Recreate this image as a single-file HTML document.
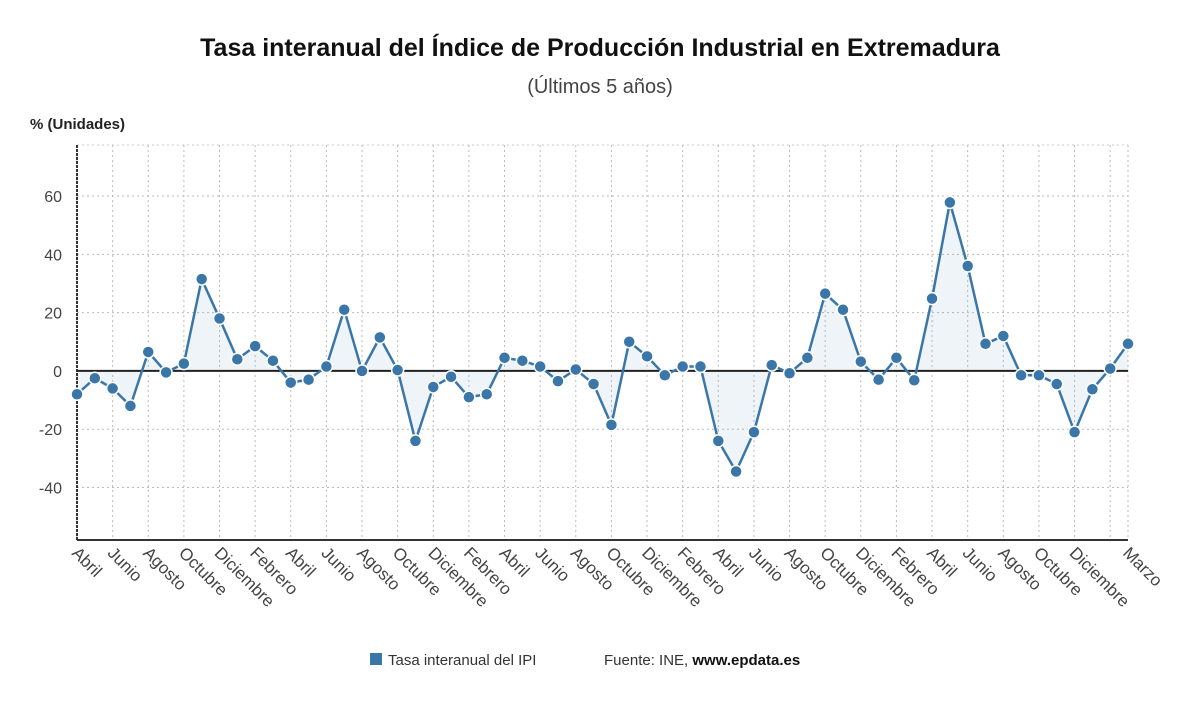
<!DOCTYPE html>
<html><head><meta charset="utf-8"><style>
body{margin:0;background:#fff;font-family:"Liberation Sans","DejaVu Sans",sans-serif;}
svg text{font-family:"Liberation Sans","DejaVu Sans",sans-serif;}
</style></head><body>
<svg id="chart" width="1200" height="705" xmlns="http://www.w3.org/2000/svg">
<text x="600" y="56" text-anchor="middle" font-size="25" font-weight="bold" fill="#111">Tasa interanual del Índice de Producción Industrial en Extremadura</text>
<text x="600" y="93" text-anchor="middle" font-size="20" fill="#444">(Últimos 5 años)</text>
<text x="30" y="129" font-size="15" font-weight="bold" fill="#222">% (Unidades)</text>
<g id="grid"></g>
<g id="area"></g>
<g id="axes"></g>
<g id="series"></g>
<g>
<rect x="370" y="653" width="12" height="12" fill="#3a76a8"/>
<text x="388" y="665" font-size="15" fill="#333">Tasa interanual del IPI</text>
<text x="604" y="665" font-size="15" fill="#333">Fuente: INE, <tspan font-weight="bold" fill="#111">www.epdata.es</tspan></text>
</g>
</svg>
<script>
const monthLabels=["Abril","Junio","Agosto","Octubre","Diciembre","Febrero"];
const values=[-8,-2.5,-6,-12,6.5,-0.5,2.5,31.5,18,4,8.5,3.5,-4,-3,1.5,21,0,11.5,0.3,-24,-5.5,-2,-9,-8,4.5,3.5,1.5,-3.5,0.5,-4.5,-18.5,10,5,-1.5,1.5,1.5,-24,-34.5,-21,2,-0.8,4.5,26.5,21,3.2,-3,4.5,-3.2,24.8,57.8,36,9.3,12,-1.5,-1.5,-4.5,-21,-6.3,0.8,9.3];
const yTicks=[60,40,20,0,-20,-40];
const NS="http://www.w3.org/2000/svg";
const L=77,R=1128,T=145,B=540,yMax=77.5,yMin=-58;
const n=values.length;
const x=i=>L+(R-L)*i/(n-1);
const y=v=>T+(yMax-v)/(yMax-yMin)*(B-T);
function mk(tag,attrs,parent){const e=document.createElementNS(NS,tag);for(const k in attrs)e.setAttribute(k,attrs[k]);parent.appendChild(e);return e;}
const grid=document.getElementById('grid'),axes=document.getElementById('axes'),area=document.getElementById('area'),series=document.getElementById('series');
yTicks.forEach(t=>{
  const g=mk('line',{x1:L,x2:R,y1:y(t),y2:y(t),stroke:'#bbb','stroke-dasharray':'2,3','stroke-width':1},grid);
  
  
  const tx=mk('text',{x:62,y:y(t)+6,'text-anchor':'end','font-size':16,fill:'#444'},axes);
  tx.textContent=t;
  
  
});
mk('line',{x1:L,x2:R,y1:T,y2:T,stroke:'#ccc','stroke-dasharray':'2,3'},grid);
for(let i=0;i<n;i+=2){
  const gl=mk('line',{x1:x(i),x2:x(i),y1:T,y2:B,stroke:'#bbb','stroke-dasharray':'2,3','stroke-width':1},grid);
  
  
  if(i>n-4) continue;
  const lab=mk('text',{transform:`translate(${x(i)-6},${B+14}) rotate(45)`,'font-size':17,fill:'#444'},axes);
  lab.textContent=monthLabels[(i/2)%6];
  
  
}
{const i=n-1;
  const gl=mk('line',{x1:x(i),x2:x(i),y1:T,y2:B,stroke:'#bbb','stroke-dasharray':'2,3'},grid);
  
  
  const lab=mk('text',{transform:`translate(${x(i)-6},${B+14}) rotate(45)`,'font-size':17,fill:'#444'},axes);
  lab.textContent="Marzo";
  
  
}
let pts=values.map((v,i)=>x(i)+','+y(v)).join(' ');
const ar=mk('polygon',{points:`${x(0)},${y(0)} ${pts} ${x(n-1)},${y(0)}`,fill:'rgba(70,130,180,0.09)'},area);


const la=mk('line',{x1:L,x2:L,y1:T,y2:B,stroke:'#333','stroke-width':2,'stroke-dasharray':'3,1'},axes);


const lb=mk('line',{x1:L,x2:R,y1:B,y2:B,stroke:'#333','stroke-width':2},axes);


const z=mk('line',{x1:L,x2:R,y1:y(0),y2:y(0),stroke:'#222','stroke-width':2},axes);


const pl=mk('polyline',{points:pts,fill:'none',stroke:'#3a76a8','stroke-width':2.5,'stroke-linejoin':'round'},series);


values.forEach((v,i)=>{
  const c=mk('circle',{cx:x(i),cy:y(v),r:6,fill:'#3a76a8',stroke:'#fff','stroke-width':1.5},series);
  
  
});
</script>
</body></html>
